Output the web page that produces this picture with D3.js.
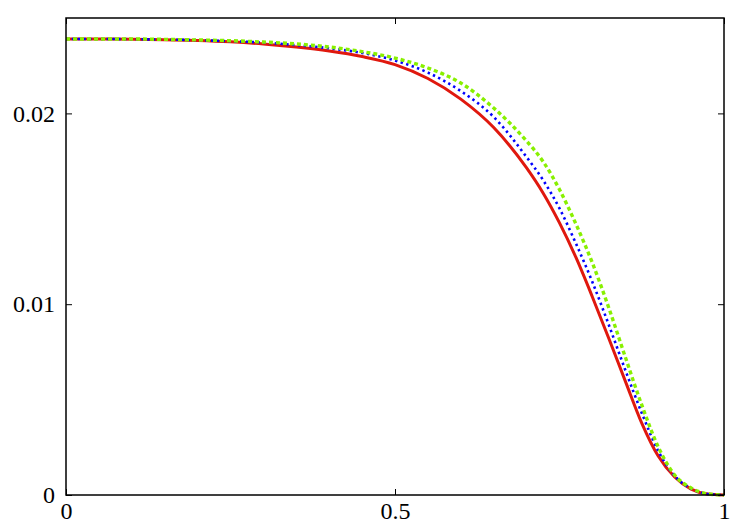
<!DOCTYPE html>
<html>
<head>
<meta charset="utf-8">
<script src="https://cdn.jsdelivr.net/npm/d3@7/dist/d3.min.js"></script>
<style>
  html, body { margin: 0; padding: 0; background: #fff; }
  svg { display: block; }
  text { font-family: "Liberation Serif", "Times New Roman", serif; }
</style>
</head>
<body>
<div id="chart"></div>
<script>
const xValues = [0, 0.05, 0.1, 0.15, 0.2, 0.25, 0.3, 0.35, 0.4, 0.45, 0.5, 0.55, 0.6, 0.65, 0.7, 0.725, 0.75, 0.775, 0.8, 0.825, 0.85, 0.875, 0.9, 0.925, 0.95, 0.975, 1];
const redValues = [0.02390, 0.02390, 0.02389, 0.02386, 0.02382, 0.02375, 0.02364, 0.02348, 0.02327, 0.02298, 0.02256, 0.02183, 0.02075, 0.01926, 0.01714, 0.01583, 0.01426, 0.01245, 0.01038, 0.00820, 0.00597, 0.00377, 0.00204, 0.00094, 0.00031, 0.00005, 0];
const blueValues = [0.02390, 0.02390, 0.02389, 0.02387, 0.02384, 0.02378, 0.02371, 0.02358, 0.02341, 0.02317, 0.02277, 0.02214, 0.02117, 0.01981, 0.01771, 0.01651, 0.01502, 0.01318, 0.01116, 0.00891, 0.00655, 0.00430, 0.00231, 0.00100, 0.00034, 0.00005, 0];
const greenValues = [0.02390, 0.02390, 0.02390, 0.02388, 0.02385, 0.02381, 0.02374, 0.02364, 0.02348, 0.02324, 0.02290, 0.02238, 0.02159, 0.02028, 0.01855, 0.01748, 0.01601, 0.01420, 0.01216, 0.00980, 0.00723, 0.00472, 0.00252, 0.00105, 0.00037, 0.00006, 0];
const xTicks = [0, 0.5, 1];
const xTickLabels = ["0", "0.5", "1"];
const yTicks = [0, 0.01, 0.02];
const yTickLabels = ["0", "0.01", "0.02"];

const W = 750, H = 525;
const margin = { left: 66, right: 26, top: 18, bottom: 30 };
const iw = W - margin.left - margin.right;
const ih = H - margin.top - margin.bottom;

const svg = d3.select("#chart").append("svg").attr("width", W).attr("height", H);
const g = svg.append("g").attr("transform", `translate(${margin.left},${margin.top})`);

const x = d3.scaleLinear().domain([0, 1]).range([0, iw]);
const y = d3.scaleLinear().domain([0, 0.025]).range([ih, 0]);

const series = [
  { values: redValues, color: "#e0180e", width: 3, dash: null },
  { values: blueValues, color: "#0000ff", width: 2.6, dash: "2.4,3.4" },
  { values: greenValues, color: "#88f000", width: 3.4, dash: "4,3" }
];

const line = d3.line()
  .x(d => x(d[0]))
  .y(d => y(d[1]))
  .curve(d3.curveMonotoneX);

series.forEach(s => {
  const pts = xValues.map((xv, i) => [xv, s.values[i]]);
  const p = g.append("path")
    .datum(pts)
    .attr("fill", "none")
    .attr("stroke", s.color)
    .attr("stroke-width", s.width)
    .attr("d", line);
  if (s.dash) p.attr("stroke-dasharray", s.dash);
});

// Axes with inward ticks
const tickLen = 6;
const fmtX = (d, i) => xTickLabels[i];
const fmtY = (d, i) => yTickLabels[i];

const xAxisB = d3.axisBottom(x).tickValues(xTicks).tickFormat(fmtX).tickSizeInner(-tickLen).tickSizeOuter(0).tickPadding(7);
const xAxisT = d3.axisTop(x).tickValues(xTicks).tickFormat("").tickSizeInner(-tickLen).tickSizeOuter(0);
const yAxisL = d3.axisLeft(y).tickValues(yTicks).tickFormat(fmtY).tickSizeInner(-tickLen).tickSizeOuter(0).tickPadding(11);
const yAxisR = d3.axisRight(y).tickValues(yTicks).tickFormat("").tickSizeInner(-tickLen).tickSizeOuter(0);

function style(sel) {
  sel.select(".domain").remove();
  sel.selectAll(".tick line").attr("stroke", "#000").attr("stroke-width", 1);
  sel.selectAll(".tick text").attr("fill", "#000").style("font-size", "24px")
    .style("font-family", '"Liberation Serif", "Times New Roman", serif');
}

g.append("g").attr("transform", `translate(0,${ih})`).call(xAxisB).call(style);
g.append("g").call(xAxisT).call(style);
g.append("g").call(yAxisL).call(style);
g.append("g").attr("transform", `translate(${iw},0)`).call(yAxisR).call(style);

// Frame
g.append("rect")
  .attr("x", 0).attr("y", 0).attr("width", iw).attr("height", ih)
  .attr("fill", "none").attr("stroke", "#000").attr("stroke-width", 1.5);
</script>
</body>
</html>
